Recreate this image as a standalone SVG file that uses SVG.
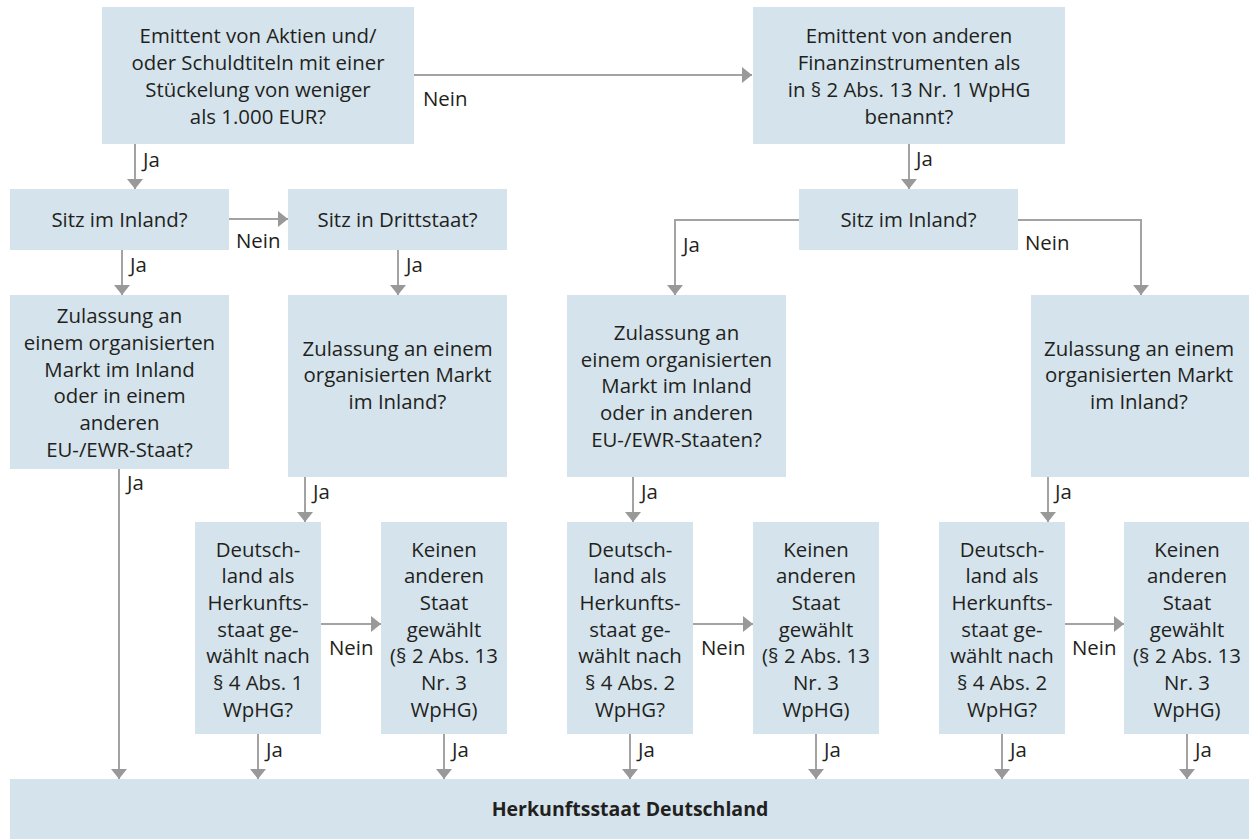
<svg xmlns="http://www.w3.org/2000/svg" width="1249" height="839" viewBox="0 0 1249 839">
<defs>
<style>
.box{fill:#d4e3ec}
.t{font-family:"Open Sans","Liberation Sans",sans-serif;font-size:20.4px;fill:#231f20;text-anchor:middle}
.l{font-family:"Open Sans","Liberation Sans",sans-serif;font-size:20.4px;fill:#231f20}
.b{font-family:"Open Sans","Liberation Sans",sans-serif;font-size:19.5px;font-weight:bold;fill:#231f20;text-anchor:middle}
.c{fill:none;stroke:#a3a3a3;stroke-width:2;marker-end:url(#ah)}
</style>
<marker id="ah" viewBox="0 0 10 16" refX="10" refY="8" markerWidth="10" markerHeight="16" markerUnits="userSpaceOnUse" orient="auto">
<path d="M0,0 L10,8 L0,16 Z" fill="#999999"/>
</marker>
</defs>
<rect width="1249" height="839" fill="#ffffff"/>

<g id="connectors">
<path class="c" d="M414,75 H752"/>
<path class="c" d="M135,144 V189"/>
<path class="c" d="M909,144 V189"/>
<path class="c" d="M229,219 H288"/>
<path class="c" d="M122,250 V295"/>
<path class="c" d="M398,250 V295"/>
<path class="c" d="M799,220 H675 V295"/>
<path class="c" d="M1018,220 H1141 V295"/>
<path class="c" d="M119,469 V779"/>
<path class="c" d="M305,477 V522"/>
<path class="c" d="M633,477 V522"/>
<path class="c" d="M1048,477 V522"/>
<path class="c" d="M321,624 H381"/>
<path class="c" d="M693,624 H753"/>
<path class="c" d="M1065,624 H1124"/>
<path class="c" d="M258,734 V779"/>
<path class="c" d="M444,734 V779"/>
<path class="c" d="M630,734 V779"/>
<path class="c" d="M816,734 V779"/>
<path class="c" d="M1002,734 V779"/>
<path class="c" d="M1187,734 V779"/>
<text class="l" x="423" y="106">Nein</text>
<text class="l" x="143" y="167">Ja</text>
<text class="l" x="916" y="166">Ja</text>
<text class="l" x="236" y="248">Nein</text>
<text class="l" x="130" y="272">Ja</text>
<text class="l" x="406" y="272">Ja</text>
<text class="l" x="683" y="252">Ja</text>
<text class="l" x="1025" y="250">Nein</text>
<text class="l" x="127" y="490">Ja</text>
<text class="l" x="313" y="499">Ja</text>
<text class="l" x="641" y="499">Ja</text>
<text class="l" x="1055" y="499">Ja</text>
<text class="l" x="329" y="655">Nein</text>
<text class="l" x="701" y="655">Nein</text>
<text class="l" x="1072" y="655">Nein</text>
<text class="l" x="266" y="757">Ja</text>
<text class="l" x="452" y="757">Ja</text>
<text class="l" x="638" y="757">Ja</text>
<text class="l" x="824" y="757">Ja</text>
<text class="l" x="1010" y="757">Ja</text>
<text class="l" x="1195" y="757">Ja</text>
</g>

<g id="n1">
<rect class="box" x="102" y="7" width="312" height="137"/>
<text class="t"><tspan x="258" y="43">Emittent von Aktien und/</tspan><tspan x="258" y="70">oder Schuldtiteln mit einer</tspan><tspan x="258" y="97">Stückelung von weniger</tspan><tspan x="258" y="124">als 1.000 EUR?</tspan></text>
</g>
<g id="n2">
<rect class="box" x="753" y="7" width="312" height="137"/>
<text class="t"><tspan x="909" y="43">Emittent von anderen</tspan><tspan x="909" y="70">Finanzinstrumenten als</tspan><tspan x="909" y="97">in § 2 Abs. 13 Nr. 1 WpHG</tspan><tspan x="909" y="124">benannt?</tspan></text>
</g>
<g id="n3">
<rect class="box" x="10" y="189" width="219" height="61"/>
<text class="t" x="119.5" y="227">Sitz im Inland?</text>
</g>
<g id="n4">
<rect class="box" x="288" y="189" width="219" height="61"/>
<text class="t" x="397.5" y="227">Sitz in Drittstaat?</text>
</g>
<g id="n5">
<rect class="box" x="799" y="189" width="219" height="61"/>
<text class="t" x="908.5" y="227">Sitz im Inland?</text>
</g>
<g id="n6">
<rect class="box" x="10" y="295" width="219" height="174"/>
<text class="t"><tspan x="119.5" y="323">Zulassung an</tspan><tspan x="119.5" y="350">einem organisierten</tspan><tspan x="119.5" y="377">Markt im Inland</tspan><tspan x="119.5" y="403">oder in einem</tspan><tspan x="119.5" y="430">anderen</tspan><tspan x="119.5" y="457">EU-/EWR-Staat?</tspan></text>
</g>
<g id="n7">
<rect class="box" x="288" y="295" width="219" height="182"/>
<text class="t"><tspan x="397.5" y="356">Zulassung an einem</tspan><tspan x="397.5" y="382">organisierten Markt</tspan><tspan x="397.5" y="409">im Inland?</tspan></text>
</g>
<g id="n8">
<rect class="box" x="567" y="295" width="219" height="182"/>
<text class="t"><tspan x="676.5" y="340">Zulassung an</tspan><tspan x="676.5" y="367">einem organisierten</tspan><tspan x="676.5" y="393">Markt im Inland</tspan><tspan x="676.5" y="420">oder in anderen</tspan><tspan x="676.5" y="447">EU-/EWR-Staaten?</tspan></text>
</g>
<g id="n9">
<rect class="box" x="1031" y="295" width="218" height="182"/>
<text class="t"><tspan x="1139" y="356">Zulassung an einem</tspan><tspan x="1139" y="382">organisierten Markt</tspan><tspan x="1139" y="409">im Inland?</tspan></text>
</g>
<g id="n10">
<rect class="box" x="195" y="522" width="126" height="212"/>
<text class="t"><tspan x="258" y="557">Deutsch-</tspan><tspan x="258" y="583">land als</tspan><tspan x="258" y="610">Herkunfts-</tspan><tspan x="258" y="637">staat ge-</tspan><tspan x="258" y="663">wählt nach</tspan><tspan x="258" y="690">§ 4 Abs. 1</tspan><tspan x="258" y="717">WpHG?</tspan></text>
</g>
<g id="n11">
<rect class="box" x="381" y="522" width="126" height="212"/>
<text class="t"><tspan x="444" y="557">Keinen</tspan><tspan x="444" y="583">anderen</tspan><tspan x="444" y="610">Staat</tspan><tspan x="444" y="637">gewählt</tspan><tspan x="444" y="663">(§ 2 Abs. 13</tspan><tspan x="444" y="690">Nr. 3</tspan><tspan x="444" y="717">WpHG)</tspan></text>
</g>
<g id="n12">
<rect class="box" x="567" y="522" width="126" height="212"/>
<text class="t"><tspan x="630" y="557">Deutsch-</tspan><tspan x="630" y="583">land als</tspan><tspan x="630" y="610">Herkunfts-</tspan><tspan x="630" y="637">staat ge-</tspan><tspan x="630" y="663">wählt nach</tspan><tspan x="630" y="690">§ 4 Abs. 2</tspan><tspan x="630" y="717">WpHG?</tspan></text>
</g>
<g id="n13">
<rect class="box" x="753" y="522" width="126" height="212"/>
<text class="t"><tspan x="816" y="557">Keinen</tspan><tspan x="816" y="583">anderen</tspan><tspan x="816" y="610">Staat</tspan><tspan x="816" y="637">gewählt</tspan><tspan x="816" y="663">(§ 2 Abs. 13</tspan><tspan x="816" y="690">Nr. 3</tspan><tspan x="816" y="717">WpHG)</tspan></text>
</g>
<g id="n14">
<rect class="box" x="939" y="522" width="126" height="212"/>
<text class="t"><tspan x="1002" y="557">Deutsch-</tspan><tspan x="1002" y="583">land als</tspan><tspan x="1002" y="610">Herkunfts-</tspan><tspan x="1002" y="637">staat ge-</tspan><tspan x="1002" y="663">wählt nach</tspan><tspan x="1002" y="690">§ 4 Abs. 2</tspan><tspan x="1002" y="717">WpHG?</tspan></text>
</g>
<g id="n15">
<rect class="box" x="1124" y="522" width="125" height="212"/>
<text class="t"><tspan x="1187" y="557">Keinen</tspan><tspan x="1187" y="583">anderen</tspan><tspan x="1187" y="610">Staat</tspan><tspan x="1187" y="637">gewählt</tspan><tspan x="1187" y="663">(§ 2 Abs. 13</tspan><tspan x="1187" y="690">Nr. 3</tspan><tspan x="1187" y="717">WpHG)</tspan></text>
</g>
<g id="n16">
<rect class="box" x="10" y="779" width="1239" height="60"/>
<text class="b" x="630" y="816">Herkunftsstaat Deutschland</text>
</g>
</svg>
